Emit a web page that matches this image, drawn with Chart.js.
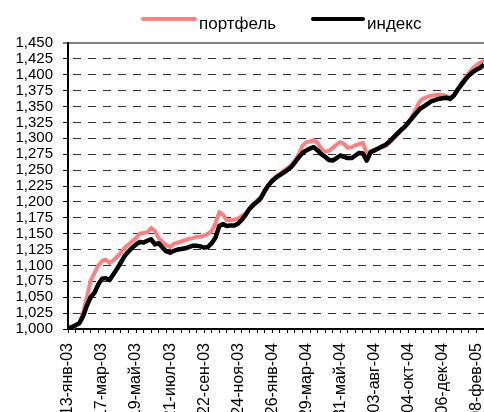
<!DOCTYPE html>
<html>
<head>
<meta charset="utf-8">
<script src="https://cdn.jsdelivr.net/npm/chart.js@4.4.1/dist/chart.umd.min.js"></script>
<style>
  html, body { margin: 0; padding: 0; background: #fff; overflow: hidden; }
  canvas { display: block; }
</style>
</head>
<body>
<canvas id="chart" width="484" height="412"></canvas>
<script>
const tickLabels = ['13-янв-03', '17-мар-03', '19-май-03', '21-июл-03', '22-сен-03', '24-ноя-03',
  '26-янв-04', '29-мар-04', '31-май-04', '03-авг-04', '04-окт-04', '06-дек-04', '08-фев-05'];
const labelEvery = 9;
const tickEvery = 2;

const portfolio = [
  1000, 1002, 1005, 1010, 1026, 1050, 1076, 1088, 1100, 1107, 1109,
  1104, 1108, 1114, 1120, 1128, 1133, 1138, 1143, 1150, 1151,
  1152, 1159, 1154, 1143, 1137, 1132, 1129, 1134, 1136, 1138,
  1140, 1142, 1143, 1145, 1145, 1147, 1150, 1154, 1166, 1184,
  1180, 1171, 1171, 1172, 1174, 1178, 1182, 1190, 1197, 1202,
  1208, 1218, 1227, 1235, 1240, 1244, 1249, 1253, 1258, 1265,
  1275, 1288, 1294, 1295, 1297, 1293, 1283, 1279, 1280, 1285,
  1290, 1294, 1291, 1285, 1286, 1289, 1291, 1293, 1276, 1280,
  1282, 1284, 1286, 1288, 1293, 1299, 1305, 1311, 1317, 1324,
  1335, 1346, 1358, 1363, 1365, 1367, 1368, 1369, 1368, 1367,
  1364, 1367, 1378, 1387, 1395, 1403, 1410, 1415, 1419, 1422
];

const benchmark = [
  1000, 1003, 1006, 1009, 1020, 1037, 1050, 1057, 1070, 1079, 1080,
  1077, 1086, 1095, 1105, 1115, 1122, 1128, 1133, 1137, 1136,
  1139, 1141, 1133, 1135, 1128, 1122, 1120, 1123, 1125, 1126,
  1127, 1129, 1131, 1131, 1130, 1128, 1129, 1135, 1144, 1162,
  1165, 1162, 1163, 1163, 1166, 1172, 1180, 1189, 1195, 1200,
  1206, 1217, 1226, 1233, 1238, 1242, 1246, 1250, 1255, 1262,
  1270, 1277, 1281, 1284, 1286, 1281, 1275, 1271, 1266, 1265,
  1269, 1273, 1271, 1269, 1269, 1273, 1277, 1276, 1265, 1278,
  1281, 1284, 1287, 1290, 1295, 1301, 1307, 1313, 1318, 1325,
  1332, 1339, 1346, 1350, 1354, 1358, 1360, 1362, 1363, 1364,
  1362, 1367, 1376, 1384, 1392, 1399, 1404, 1408, 1411, 1416
];

const seriesNames = ['портфель', 'индекс'];
const seriesColors = ['#ff8080', '#000000'];

Chart.defaults.font.family = "'Liberation Sans', Arial, sans-serif";
Chart.defaults.color = '#000';

// legend drawn by hand: Excel put it off-centre
const lineLegend = {
  id: 'lineLegend',
  afterDraw(chart, args, opts) {
    const { ctx } = chart;
    ctx.save();
    chart.data.datasets.forEach((ds, i) => {
      const pos = opts.items[i];
      ctx.strokeStyle = ds.borderColor;
      ctx.lineWidth = 4;
      ctx.lineCap = 'round';
      ctx.beginPath();
      ctx.moveTo(pos.x, opts.y);
      ctx.lineTo(pos.x + pos.w, opts.y);
      ctx.stroke();
      ctx.fillStyle = '#000';
      ctx.font = "17px 'Liberation Sans', Arial, sans-serif";
      ctx.textBaseline = 'alphabetic';
      ctx.fillText(ds.label, pos.x + pos.w + 4, opts.y + 10);
    });
    ctx.restore();
  }
};

const toPoints = arr => arr.map((v, i) => ({ x: i, y: v }));

new Chart(document.getElementById('chart'), {
  type: 'line',
  data: {
    datasets: [
      {
        label: seriesNames[0],
        data: toPoints(portfolio),
        borderColor: seriesColors[0],
        backgroundColor: seriesColors[0],
        borderWidth: 4,
        pointRadius: 0,
        tension: 0,
        borderJoinStyle: 'round',
        order: 2,
      },
      {
        label: seriesNames[1],
        data: toPoints(benchmark),
        borderColor: seriesColors[1],
        backgroundColor: seriesColors[1],
        borderWidth: 4.5,
        pointRadius: 0,
        tension: 0,
        borderJoinStyle: 'round',
        order: 1,
      }
    ],
  },
  options: {
    responsive: false,
    animation: false,
    layout: { padding: { top: 43, left: 0, right: 0, bottom: 0 } },
    plugins: {
      legend: { display: false },
      tooltip: { enabled: false },
      lineLegend: {
        y: 19,
        items: [{ x: 143, w: 52 }, { x: 313, w: 50 }],
      },
    },
    scales: {
      x: {
        type: 'linear',
        min: 0,
        max: portfolio.length - 1,
        afterBuildTicks(scale) {
          const vals = new Set();
          for (let v = 0; v <= scale.max; v += tickEvery) vals.add(v);
          tickLabels.forEach((l, i) => vals.add(i * labelEvery));
          scale.ticks = [...vals].sort((a, b) => a - b).map(value => ({ value }));
        },
        afterFit(scale) {
          scale.height = 83;
          scale.paddingLeft = 0;
          scale.paddingRight = 0;
        },
        grid: {
          drawOnChartArea: false,
          tickLength: 4,
          tickWidth: 1,
          tickColor: (c) => (c.tick && c.tick.value % tickEvery === 0 ? '#000' : 'rgba(0,0,0,0)'),
        },
        border: { color: '#000', width: 2 },
        ticks: {
          autoSkip: false,
          maxRotation: 90,
          minRotation: 90,
          padding: 10,
          font: { size: 16 },
          callback: (v) => (v % labelEvery === 0 ? (tickLabels[v / labelEvery] || '') : ''),
        },
      },
      y: {
        min: 1000,
        max: 1450,
        afterFit(scale) {
          scale.width = 68;
          scale.paddingTop = 0;
          scale.paddingBottom = 0;
        },
        grid: {
          color: (c) => {
            if (!c.tick) return '#333';
            if (c.tick.value === 1450) return '#808080';
            if (c.tick.value === 1000) return 'rgba(0,0,0,0)';
            return '#333';
          },
          lineWidth: (c) => (c.tick && c.tick.value === 1450 ? 2 : 1),
          tickLength: 5,
          tickColor: '#000',
          tickWidth: 1,
        },
        border: {
          color: '#000',
          width: 2,
          dash: (c) => (c.tick && c.tick.value === 1450 ? [] : [8, 7]),
          dashOffset: 11,
        },
        ticks: {
          stepSize: 25,
          autoSkip: false,
          padding: 10,
          font: { size: 15 },
          callback: (v) => v.toLocaleString('en-US'),
        },
      },
    },
  },
  plugins: [lineLegend],
});
</script>
</body>
</html>
